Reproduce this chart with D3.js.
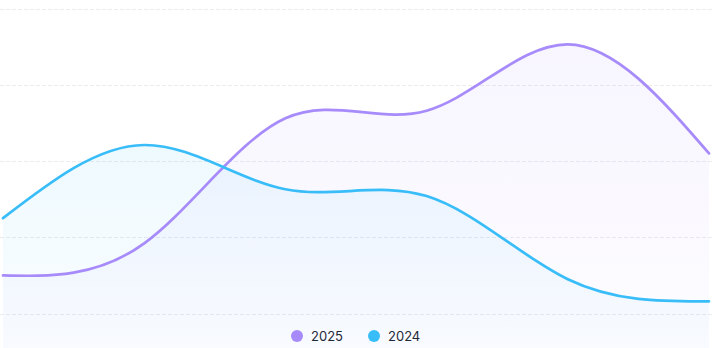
<!DOCTYPE html>
<html>
<head>
<meta charset="utf-8">
<script src="https://cdn.jsdelivr.net/npm/d3@7"></script>
<style>
html,body{margin:0;padding:0;background:#fff;}
svg{display:block;font-family:Inter, "Noto Sans", sans-serif;}
</style>
</head>
<body>
<svg id="chart" width="712" height="348"></svg>
<script>
const categories = ["P1","P2","P3","P4","P5","P6"];
const series2025 = [50,92,256,266,353,210];
const series2024 = [125,221,163,154,45,16];
const yTicks = [0,100,200,300,400];
const seriesNames = ["2025","2024"];
const seriesColors = ["#a78bfa","#38bdf8"];

const W = 712, H = 348;
const svg = d3.select("#chart");
const x = d3.scalePoint().domain(categories).range([3, 709]);
const y = d3.scaleLinear().domain([0,400]).range([313.5, 8.5]);

const defs = svg.append("defs");
seriesColors.forEach((c,i)=>{
  const g = defs.append("linearGradient").attr("id","g"+i).attr("x1",0).attr("x2",0).attr("y1",0).attr("y2",1);
  g.append("stop").attr("offset","0%").attr("stop-color",c).attr("stop-opacity",0.085);
  g.append("stop").attr("offset","100%").attr("stop-color",c).attr("stop-opacity",0.025);
});

// grid
svg.append("g").selectAll("line").data(yTicks).join("line")
  .attr("x1",0).attr("x2",W)
  .attr("y1",d=>Math.round(y(d))+0.5).attr("y2",d=>Math.round(y(d))+0.5)
  .attr("stroke","#ebebf0").attr("stroke-width",1).attr("stroke-dasharray","4 2");

const data = [series2025, series2024];
const curve = d3.curveNatural;
const area = d3.area().x((d,i)=>x(categories[i])).y0(H).y1(d=>y(d)).curve(curve);
const line = d3.line().x((d,i)=>x(categories[i])).y(d=>y(d)).curve(curve);

data.forEach((s,i)=>{
  svg.append("path").datum(s).attr("d",area).attr("fill",`url(#g${i})`);
});
data.forEach((s,i)=>{
  svg.append("path").datum(s).attr("d",line).attr("fill","none")
    .attr("stroke",seriesColors[i]).attr("stroke-width",2.7).attr("stroke-linecap","round");
});

// legend
const legend = svg.append("g");
const lx = [297, 374];
seriesNames.forEach((n,i)=>{
  legend.append("circle").attr("cx",lx[i]).attr("cy",336).attr("r",6).attr("fill",seriesColors[i]);
  legend.append("text").attr("x",lx[i]+14).attr("y",336).attr("dy","0.35em")
    .attr("font-size",13).attr("fill","#1f2937").text(n);
});
</script>
</body>
</html>
